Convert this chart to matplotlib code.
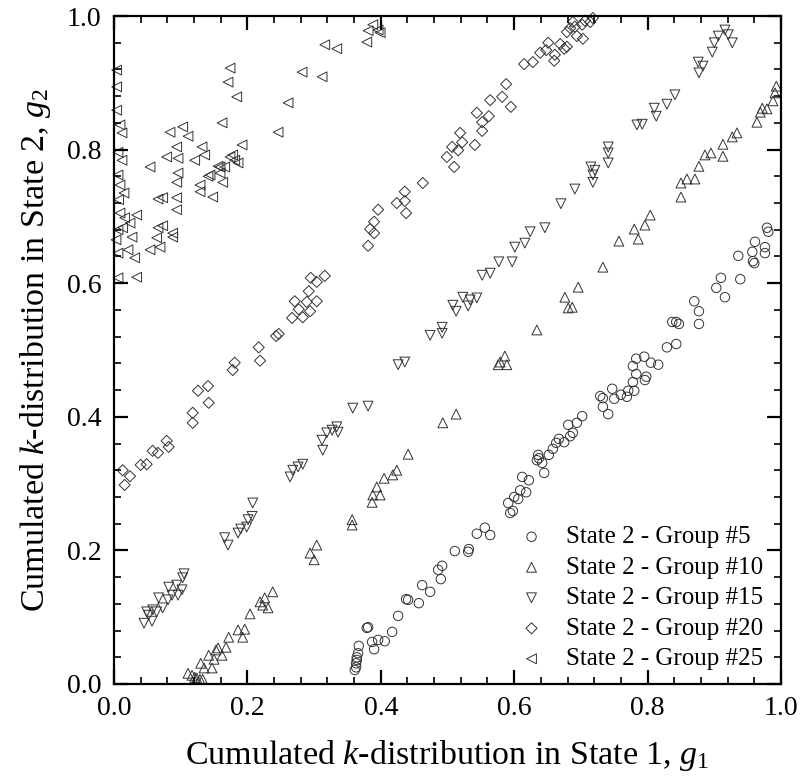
import numpy as np
import matplotlib
matplotlib.use("Agg")
from matplotlib import pyplot as plt
from matplotlib.ticker import MultipleLocator

plt.rcParams['font.family'] = ['Liberation Serif', 'DejaVu Serif']
plt.rcParams['mathtext.fontset'] = 'custom'
plt.rcParams['mathtext.rm'] = 'Liberation Serif'
plt.rcParams['mathtext.it'] = 'Liberation Serif:italic'

# State 2 - Group #5 (circles)
g5_x = [0.361, 0.363, 0.363, 0.364, 0.364, 0.366, 0.367, 0.379, 0.381, 0.387, 0.390, 0.396,
        0.406, 0.417, 0.426, 0.438, 0.441, 0.457, 0.462, 0.474, 0.486, 0.492, 0.490, 0.511,
        0.531, 0.532, 0.544, 0.556, 0.564, 0.591, 0.594, 0.598, 0.600, 0.606, 0.609, 0.618,
        0.612, 0.622, 0.634, 0.642, 0.645, 0.636, 0.637, 0.652, 0.658, 0.663, 0.667, 0.675,
        0.681, 0.684, 0.688, 0.694, 0.702, 0.729, 0.733, 0.733, 0.741, 0.747, 0.750, 0.760,
        0.769, 0.771, 0.780, 0.778, 0.783, 0.778, 0.783, 0.795, 0.796, 0.798, 0.805, 0.816,
        0.829, 0.843, 0.837, 0.843, 0.847, 0.870, 0.877, 0.877, 0.903, 0.910, 0.916, 0.936,
        0.939, 0.957, 0.958, 0.960, 0.961, 0.976, 0.976, 0.979, 0.981]
g5_y = [0.021, 0.025, 0.031, 0.036, 0.040, 0.046, 0.057, 0.084, 0.085, 0.063, 0.052, 0.066,
        0.064, 0.078, 0.102, 0.127, 0.126, 0.121, 0.148, 0.138, 0.171, 0.177, 0.157, 0.199,
        0.198, 0.202, 0.225, 0.234, 0.223, 0.271, 0.256, 0.259, 0.280, 0.277, 0.290, 0.287,
        0.310, 0.305, 0.335, 0.331, 0.316, 0.343, 0.338, 0.343, 0.352, 0.361, 0.367, 0.362,
        0.388, 0.371, 0.376, 0.391, 0.401, 0.431, 0.428, 0.415, 0.404, 0.442, 0.427, 0.433,
        0.430, 0.439, 0.439, 0.452, 0.464, 0.476, 0.487, 0.490, 0.455, 0.460, 0.481, 0.478,
        0.504, 0.509, 0.542, 0.542, 0.539, 0.573, 0.558, 0.539, 0.593, 0.608, 0.579, 0.641,
        0.606, 0.647, 0.633, 0.630, 0.662, 0.654, 0.645, 0.683, 0.677]

# State 2 - Group #10 (up triangles)
g10_x = [0.111, 0.117, 0.121, 0.124, 0.129, 0.133, 0.130, 0.135, 0.142, 0.147, 0.150, 0.153,
         0.156, 0.162, 0.168, 0.172, 0.186, 0.193, 0.196, 0.204, 0.219, 0.223, 0.226, 0.231,
         0.238, 0.294, 0.300, 0.304, 0.357, 0.357, 0.387, 0.388, 0.394, 0.399, 0.405, 0.418,
         0.424, 0.441, 0.493, 0.513, 0.576, 0.586, 0.589, 0.579, 0.634, 0.676, 0.681, 0.687,
         0.696, 0.733, 0.757, 0.786, 0.780, 0.796, 0.804, 0.850, 0.850, 0.859, 0.871, 0.877,
         0.886, 0.895, 0.913, 0.913, 0.927, 0.934, 0.964, 0.969, 0.972, 0.979, 0.988, 0.991,
         0.993]
g10_y = [0.016, 0.013, 0.010, 0.009, 0.007, 0.007, 0.031, 0.024, 0.043, 0.024, 0.037, 0.051,
         0.054, 0.043, 0.055, 0.070, 0.081, 0.070, 0.082, 0.105, 0.123, 0.118, 0.129, 0.114,
         0.138, 0.196, 0.186, 0.208, 0.246, 0.238, 0.272, 0.283, 0.295, 0.283, 0.308, 0.313,
         0.320, 0.344, 0.391, 0.404, 0.478, 0.491, 0.478, 0.482, 0.530, 0.579, 0.563, 0.564,
         0.594, 0.624, 0.663, 0.666, 0.681, 0.687, 0.702, 0.729, 0.750, 0.756, 0.756, 0.775,
         0.792, 0.795, 0.790, 0.808, 0.819, 0.825, 0.841, 0.856, 0.862, 0.861, 0.873, 0.885,
         0.895]

# State 2 - Group #15 (down triangles)
g15_x = [0.045, 0.049, 0.052, 0.057, 0.058, 0.064, 0.067, 0.073, 0.081, 0.082, 0.087, 0.094,
         0.096, 0.102, 0.103, 0.105, 0.166, 0.171, 0.186, 0.190, 0.199, 0.201, 0.207, 0.208,
         0.264, 0.268, 0.276, 0.283, 0.312, 0.313, 0.319, 0.327, 0.334, 0.336, 0.358, 0.381,
         0.426, 0.436, 0.474, 0.492, 0.492, 0.508, 0.513, 0.523, 0.531, 0.534, 0.544, 0.552,
         0.564, 0.577, 0.597, 0.601, 0.616, 0.624, 0.646, 0.670, 0.691, 0.715, 0.718, 0.721,
         0.718, 0.741, 0.741, 0.741, 0.784, 0.792, 0.810, 0.813, 0.829, 0.841, 0.876, 0.877,
         0.883, 0.897, 0.900, 0.906, 0.916, 0.921, 0.927]
g15_y = [0.091, 0.108, 0.103, 0.094, 0.111, 0.108, 0.129, 0.114, 0.126, 0.145, 0.133, 0.148,
         0.133, 0.141, 0.159, 0.165, 0.219, 0.208, 0.226, 0.232, 0.235, 0.246, 0.251, 0.271,
         0.310, 0.320, 0.325, 0.329, 0.365, 0.350, 0.376, 0.380, 0.385, 0.377, 0.413, 0.416,
         0.478, 0.482, 0.522, 0.525, 0.534, 0.567, 0.558, 0.579, 0.566, 0.575, 0.578, 0.612,
         0.615, 0.632, 0.632, 0.654, 0.660, 0.677, 0.683, 0.719, 0.741, 0.774, 0.762, 0.769,
         0.751, 0.804, 0.795, 0.780, 0.837, 0.838, 0.862, 0.850, 0.868, 0.882, 0.931, 0.915,
         0.925, 0.946, 0.960, 0.970, 0.979, 0.972, 0.960]

# State 2 - Group #20 (diamonds)
g20_x = [0.013, 0.024, 0.016, 0.040, 0.049, 0.058, 0.066, 0.079, 0.082, 0.118, 0.118, 0.126,
         0.141, 0.142, 0.178, 0.181, 0.217, 0.219, 0.243, 0.247, 0.267, 0.271, 0.277, 0.283,
         0.289, 0.294, 0.292, 0.295, 0.304, 0.304, 0.316, 0.381, 0.384, 0.390, 0.390, 0.396,
         0.424, 0.436, 0.436, 0.438, 0.463, 0.499, 0.507, 0.510, 0.516, 0.519, 0.522, 0.541,
         0.544, 0.552, 0.552, 0.562, 0.564, 0.582, 0.588, 0.595, 0.615, 0.628, 0.639, 0.648,
         0.651, 0.661, 0.660, 0.669, 0.675, 0.679, 0.684, 0.688, 0.691, 0.694, 0.702, 0.703,
         0.706, 0.714, 0.718, 0.679]
g20_y = [0.320, 0.311, 0.298, 0.328, 0.329, 0.349, 0.346, 0.364, 0.355, 0.406, 0.391, 0.439,
         0.446, 0.421, 0.470, 0.481, 0.504, 0.484, 0.521, 0.524, 0.548, 0.573, 0.561, 0.549,
         0.572, 0.558, 0.588, 0.608, 0.602, 0.573, 0.611, 0.656, 0.681, 0.675, 0.692, 0.710,
         0.720, 0.737, 0.723, 0.705, 0.750, 0.789, 0.804, 0.774, 0.799, 0.825, 0.811, 0.807,
         0.855, 0.841, 0.828, 0.850, 0.874, 0.879, 0.898, 0.864, 0.928, 0.931, 0.945, 0.949,
         0.960, 0.942, 0.933, 0.958, 0.951, 0.976, 0.982, 0.991, 0.984, 0.970, 0.987, 0.966,
         0.993, 0.991, 0.997, 0.954]

# State 2 - Group #25 (left triangles)
g25_x = [0.004, 0.004, 0.004, 0.009, 0.012, 0.006, 0.012, 0.006, 0.009, 0.015, 0.009, 0.016,
         0.024, 0.013, 0.027, 0.006, 0.034, 0.006, 0.021, 0.031, 0.006, 0.034, 0.003, 0.007,
         0.054, 0.069, 0.064, 0.066, 0.073, 0.088, 0.088, 0.054, 0.079, 0.094, 0.096, 0.103,
         0.111, 0.084, 0.132, 0.121, 0.136, 0.144, 0.159, 0.162, 0.174, 0.171, 0.184, 0.192,
         0.148, 0.129, 0.129, 0.096, 0.094, 0.094, 0.094, 0.073, 0.066, 0.178, 0.186, 0.166,
         0.163, 0.159, 0.174, 0.181, 0.156, 0.141, 0.246, 0.261, 0.282, 0.312, 0.316, 0.334,
         0.379, 0.381, 0.388, 0.396, 0.399]
g25_y = [0.919, 0.894, 0.859, 0.837, 0.825, 0.796, 0.784, 0.762, 0.747, 0.735, 0.705, 0.698,
         0.690, 0.683, 0.669, 0.680, 0.702, 0.645, 0.650, 0.638, 0.608, 0.609, 0.665, 0.725,
         0.650, 0.654, 0.668, 0.683, 0.686, 0.675, 0.669, 0.774, 0.789, 0.804, 0.787, 0.834,
         0.820, 0.826, 0.804, 0.784, 0.792, 0.762, 0.774, 0.840, 0.922, 0.901, 0.879, 0.807,
         0.729, 0.747, 0.737, 0.765, 0.751, 0.728, 0.710, 0.728, 0.726, 0.792, 0.780, 0.774,
         0.751, 0.765, 0.789, 0.784, 0.775, 0.760, 0.826, 0.870, 0.916, 0.909, 0.957, 0.951,
         0.961, 0.978, 0.987, 0.979, 0.975]

labels = ['State 2 - Group #5', 'State 2 - Group #10', 'State 2 - Group #15',
          'State 2 - Group #20', 'State 2 - Group #25']

fig = plt.figure(figsize=(8.01, 7.81), dpi=100)
ax = fig.add_axes([0.1423, 0.1242, 0.8327, 0.8553])

ec = '#333333'
kw = dict(facecolors='none', edgecolors=ec, linewidths=0.7, clip_on=False)
ax.scatter(g5_x, g5_y, marker='o', s=46, label=labels[0], **kw)
ax.scatter(g10_x, g10_y, marker='^', s=50, label=labels[1], **kw)
ax.scatter(g15_x, g15_y, marker='v', s=50, label=labels[2], **kw)
ax.scatter(g20_x, g20_y, marker='D', s=32, label=labels[3], **kw)
ax.scatter(g25_x, g25_y, marker='<', s=50, label=labels[4], **kw)

ax.set_xlim(0, 1)
ax.set_ylim(0, 1)
ax.xaxis.set_major_locator(MultipleLocator(0.2))
ax.yaxis.set_major_locator(MultipleLocator(0.2))
ax.xaxis.set_minor_locator(MultipleLocator(0.04))
ax.yaxis.set_minor_locator(MultipleLocator(0.04))
ax.xaxis.set_major_formatter(plt.FuncFormatter(lambda v, p: '%.1f' % v))
ax.yaxis.set_major_formatter(plt.FuncFormatter(lambda v, p: '%.1f' % v))
ax.tick_params(which='both', direction='in', top=True, right=True, labelsize=20)
ax.tick_params(which='major', length=10, width=1.6, pad=9)
ax.tick_params(which='minor', length=5, width=1.2)
for sp in ax.spines.values():
    sp.set_linewidth(1.6)

ax.set_xlabel('Cumulated $k$-distribution in State 1, $g_1$', fontsize=24.5, labelpad=12)
ax.set_ylabel('Cumulated $k$-distribution in State 2, $g_2$', fontsize=24.5)
ax.yaxis.set_label_coords(-0.092, 0.5)

ax.legend(loc='lower right', bbox_to_anchor=(0.995, -0.002), frameon=False, fontsize=18,
          scatterpoints=1, handletextpad=0.36, labelspacing=0.32, borderaxespad=0.2)

fig.savefig('out.png', dpi=100)
